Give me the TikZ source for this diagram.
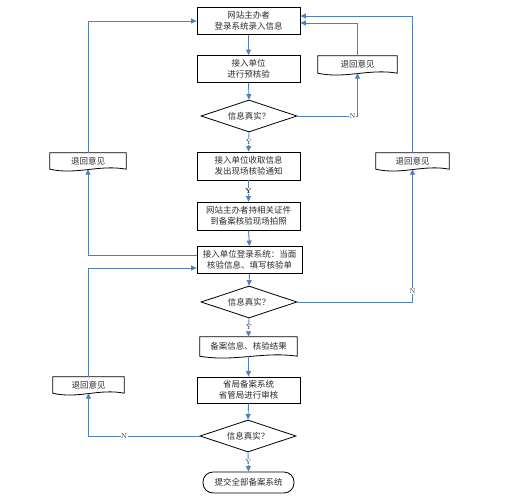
\documentclass[tikz,border=0pt]{standalone}
\usepackage{fontspec}
\newfontfamily\cjk{Noto Sans CJK SC}
\usetikzlibrary{shapes.geometric,arrows.meta,calc}
\definecolor{lineblue}{RGB}{79,129,189}
\definecolor{txt}{RGB}{45,45,45}
\tikzset{
  base/.style={font=\cjk\fontsize{8.5}{11}\selectfont, text=txt, align=center, inner sep=0pt},
  procbox/.style={base, draw=black, line width=0.8pt, rectangle, minimum width=103pt, minimum height=27pt},
  decision/.style={base, draw=black, line width=0.8pt, diamond, aspect=3, minimum width=96pt, minimum height=32pt},
  docnode/.style={base, rectangle},
  terminal/.style={base, draw=black, line width=0.8pt, rectangle, rounded corners=10pt, minimum width=91pt, minimum height=21pt},
  conn/.style={draw=lineblue, line width=0.9pt, -{Triangle[length=5.5pt,width=5pt]}},
  lbl/.style={font=\fontsize{7}{8}\selectfont, text=txt, fill=white, inner sep=0.6pt},
  docline/.style={draw=black, line width=0.8pt}
}
\newcommand\docframe[1]{\draw[docline] (#1.south west) -- (#1.north west) -- (#1.north east) -- (#1.south east) .. controls ($(#1.south east)!0.35!(#1.south west)+(0pt,5pt)$) and ($(#1.south west)!0.35!(#1.south east)+(0pt,-6pt)$) .. (#1.south west) -- cycle;}
\begin{document}
\begin{tikzpicture}[x=1pt,y=-1pt]
\useasboundingbox[fill=white] (0,0) rectangle (524,500);
% main column
\node[procbox] (b1) at (248.5,21) {网站主办者\\登录系统录入信息};
\node[procbox] (b2) at (248.5,69) {接入单位\\进行预核验};
\node[decision] (d1) at (249,116) {信息真实？};
\node[procbox, minimum height=28pt] (b3) at (248.5,166) {接入单位收取信息\\发出现场核验通知};
\node[procbox, minimum height=28pt] (b4) at (248.5,216) {网站主办者持相关证件\\到备案核验现场拍照};
\node[procbox, minimum width=105pt] (b5) at (249.5,260) {接入单位登录系统：当面\\核验信息、填写核验单};
\node[decision] (d2) at (249,302) {信息真实？};
\node[docnode, minimum width=97pt, minimum height=19pt] (doc4) at (248.5,346.5) {备案信息、核验结果};
\node[procbox, minimum height=26pt] (b6) at (248.5,390) {省局备案系统\\省管局进行审核};
\node[decision] (d3) at (248,436) {信息真实？};
\node[terminal] (t) at (248.5,482.5) {提交全部备案系统};
% side documents
\node[docnode, minimum width=79pt, minimum height=17pt] (r1) at (357.5,64.5) {退回意见};
\node[docnode, minimum width=73pt, minimum height=16pt] (r2) at (412.5,161) {退回意见};
\node[docnode, minimum width=76pt, minimum height=16pt] (l1) at (88,161) {退回意见};
\node[docnode, minimum width=71pt, minimum height=16pt] (l2) at (88.5,385) {退回意见};
\docframe{doc4}
\docframe{r1}
\docframe{r2}
\docframe{l1}
\docframe{l2}
% main flow
\draw[conn] (b1.south) -- (b2.north);
\draw[conn] (b2.south) -- (d1.north);
\draw[conn] (d1.south) -- node[lbl]{Y} (b3.north);
\draw[conn] (b3.south) -- node[lbl,font=\bfseries\fontsize{7}{8}\selectfont]{Y} (b4.north);
\draw[conn] (b4.south) -- (b5.north);
\draw[conn] (b5.south) -- (d2.north);
\draw[conn] (d2.south) -- node[lbl]{Y} (doc4.north);
\draw[conn] (doc4.south) -- (b6.north);
\draw[conn] (b6.south) -- (d3.north);
\draw[conn] (d3.south) -- node[lbl]{Y} (t.north);
% return loops
\draw[conn] (d1.east) -| node[lbl,pos=0.46]{N} (r1.south);
\draw[conn] (r1.north) |- ([yshift=-2pt]b1.east);
\draw[conn] (d2.east) -| node[lbl,pos=0.54]{N} (r2.south);
\draw[conn] (r2.north) |- ([yshift=5pt]b1.east);
\draw[conn] ([yshift=4.5pt]b5.west) -| (l1.south);
\draw[conn] (l1.north) |- (b1.west);
\draw[conn] (d3.west) -| node[lbl,pos=0.34]{N} (l2.south);
\draw[conn] (l2.north) |- ([yshift=-8pt]b5.west);
\end{tikzpicture}
\end{document}
